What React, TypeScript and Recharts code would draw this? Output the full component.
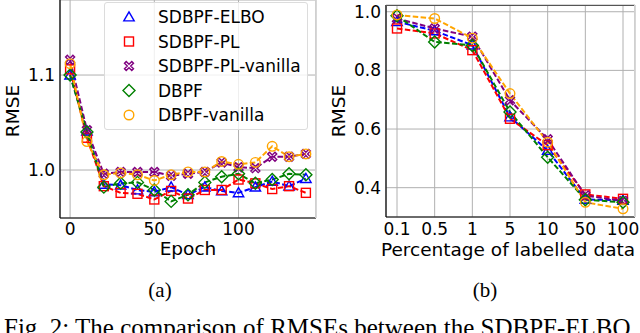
import React from "react";
import { LineChart, Line, XAxis, YAxis, CartesianGrid } from "recharts";

// plot (a): RMSE per epoch
const epochs = [0, 10, 20, 30, 40, 50, 60, 70, 80, 90, 100, 110, 120, 130, 140];
const elboByEpoch = [1.1, 1.041, 0.985, 0.984, 0.979, 0.977, 0.982, 0.974, 0.982, 0.978, 0.976, 0.982, 0.988, 0.983, 0.991];
const plByEpoch = [1.106, 1.034, 0.983, 0.976, 0.975, 0.969, 0.978, 0.970, 0.979, 0.979, 0.990, 0.986, 0.980, 0.983, 0.976];
const plVanillaByEpoch = [1.116, 1.042, 0.996, 0.998, 0.998, 0.998, 0.994, 0.996, 0.998, 1.008, 1.003, 1.002, 1.014, 1.014, 1.017];
const dbpfByEpoch = [1.1, 1.04, 0.982, 0.986, 0.987, 0.979, 0.967, 0.974, 0.987, 0.993, 0.996, 0.986, 0.99, 0.996, 0.995];
const dbpfVanillaByEpoch = [1.112, 1.03, 0.995, 0.997, 0.995, 0.989, 0.995, 0.998, 0.998, 1.009, 1.006, 1.008, 1.025, 1.014, 1.017];

// plot (b): RMSE per percentage of labelled data
const percentages = ["0.1", "0.5", "1", "5", "10", "50", "100"];
const elboByPct = [0.966, 0.935, 0.886, 0.641, 0.527, 0.36, 0.357];
const plByPct = [0.943, 0.926, 0.869, 0.635, 0.545, 0.377, 0.362];
const plVanillaByPct = [0.977, 0.943, 0.915, 0.698, 0.565, 0.373, 0.355];
const dbpfByPct = [0.986, 0.897, 0.885, 0.658, 0.504, 0.359, 0.35];
const dbpfVanillaByPct = [0.989, 0.977, 0.91, 0.721, 0.555, 0.35, 0.328];

const SERIES = [
  { key: "elbo", name: "SDBPF-ELBO", color: "#0000ff", shape: "triangle" },
  { key: "pl", name: "SDBPF-PL", color: "#ff0000", shape: "square" },
  { key: "plv", name: "SDBPF-PL-vanilla", color: "#800080", shape: "x" },
  { key: "dbpf", name: "DBPF", color: "#008000", shape: "diamond" },
  { key: "dbpfv", name: "DBPF-vanilla", color: "#ffa500", shape: "circle" },
];

const epochData = epochs.map((e, i) => ({
  epoch: e,
  elbo: elboByEpoch[i],
  pl: plByEpoch[i],
  plv: plVanillaByEpoch[i],
  dbpf: dbpfByEpoch[i],
  dbpfv: dbpfVanillaByEpoch[i],
}));

const pctData = percentages.map((p, i) => ({
  pct: p,
  elbo: elboByPct[i],
  pl: plByPct[i],
  plv: plVanillaByPct[i],
  dbpf: dbpfByPct[i],
  dbpfv: dbpfVanillaByPct[i],
}));

const FONT = "'DejaVu Sans', sans-serif";
const SERIF = "'Liberation Serif', 'DejaVu Serif', serif";

const Marker = ({ cx, cy, shape, color }) => {
  if (cx == null || cy == null) return null;
  const common = { fill: "none", stroke: color, strokeWidth: 1.4 };
  if (shape === "triangle") {
    const s = 5.2;
    return <polygon points={`${cx},${cy - s} ${cx - s},${cy + s * 0.75} ${cx + s},${cy + s * 0.75}`} {...common} />;
  }
  if (shape === "square") {
    return <rect x={cx - 4.5} y={cy - 4.5} width={9} height={9} {...common} />;
  }
  if (shape === "diamond") {
    const s = 6;
    return <polygon points={`${cx},${cy - s} ${cx + s},${cy} ${cx},${cy + s} ${cx - s},${cy}`} {...common} />;
  }
  if (shape === "x") {
    const a = 1.7;
    const b = 4.5;
    const pts = [
      [0, -a], [b - a, -b], [b, -(b - a)], [a, 0], [b, b - a], [b - a, b],
      [0, a], [-(b - a), b], [-b, b - a], [-a, 0], [-b, -(b - a)], [-(b - a), -b],
    ];
    return <polygon points={pts.map(([x, y]) => `${cx + x},${cy + y}`).join(" ")} {...common} />;
  }
  return <circle cx={cx} cy={cy} r={4.8} {...common} />;
};

const renderLines = () =>
  SERIES.map((s) => (
    <Line
      key={s.key}
      dataKey={s.key}
      stroke={s.color}
      strokeWidth={2}
      strokeDasharray="5.5 2.4"
      isAnimationActive={false}
      dot={(p) => <Marker key={`${s.key}-${p.index}`} cx={p.cx} cy={p.cy} shape={s.shape} color={s.color} />}
      activeDot={false}
    />
  ));

const tickStyle = { fontFamily: FONT, fontSize: 17, fill: "#000" };

const Label = ({ x, y, text, rotate = false, font = FONT, size = 18.5 }) => (
  <div
    style={{
      position: "absolute",
      left: x,
      top: y,
      transform: `translate(-50%, -50%)${rotate ? " rotate(-90deg)" : ""}`,
      fontFamily: font,
      fontSize: size,
      whiteSpace: "nowrap",
      lineHeight: 1,
    }}
  >
    {text}
  </div>
);

const App = () => {
  return (
    <div
      style={{
        position: "fixed",
        left: 0,
        top: 0,
        width: 640,
        height: 333,
        overflow: "hidden",
        background: "#fff",
      }}
    >
      {/* (a) */}
      <div style={{ position: "absolute", left: 0, top: 0 }}>
        <LineChart width={320} height={260} data={epochData} margin={{ top: 0, right: 4, left: 0, bottom: 0 }}>
          <CartesianGrid stroke="#b0b0b0" strokeWidth={1} />
          <XAxis
            dataKey="epoch"
            type="number"
            domain={[-6, 146]}
            ticks={[0, 50, 100]}
            height={42}
            tickLine={false}
            tickSize={3}
            tickMargin={2}
            axisLine={{ stroke: "#000", strokeWidth: 1.2 }}
            tick={tickStyle}
          />
          <YAxis
            type="number"
            domain={[0.9495, 1.179]}
            ticks={[1.0, 1.1]}
            tickFormatter={(v) => v.toFixed(1)}
            width={60}
            tickLine={false}
            tickSize={3}
            tickMargin={2}
            allowDataOverflow
            axisLine={{ stroke: "#000", strokeWidth: 1.2 }}
            tick={tickStyle}
          />
          {renderLines()}
        </LineChart>
      </div>
      <div style={{ position: "absolute", left: 315, top: 0, width: 1, height: 218, background: "#d0d0d0" }} />

      {/* legend (a) */}
      <div
        style={{
          position: "absolute",
          left: 104,
          top: 2,
          width: 204,
          height: 128,
          background: "rgba(255,255,255,0.8)",
          border: "1px solid #dcdcdc",
          borderRadius: 3,
          boxSizing: "border-box",
        }}
      >
        <svg width={40} height={127} style={{ position: "absolute", left: 0, top: 0 }}>
          {SERIES.map((s, i) => (
            <Marker key={s.key} cx={24} cy={14 + i * 24.5} shape={s.shape} color={s.color} />
          ))}
        </svg>
        {SERIES.map((s, i) => (
          <div
            key={s.key}
            style={{
              position: "absolute",
              left: 53,
              top: 14 + i * 24.5,
              transform: "translateY(-50%)",
              fontFamily: FONT,
              fontSize: 17,
              lineHeight: 1,
              whiteSpace: "nowrap",
            }}
          >
            {s.name}
          </div>
        ))}
      </div>

      <Label x={13} y={111} text="RMSE" rotate />
      <Label x={188} y={249} text="Epoch" />
      <Label x={160} y={290} text="(a)" font={SERIF} size={21} />

      {/* (b) */}
      <div style={{ position: "absolute", left: 320, top: 0 }}>
        <LineChart width={320} height={260} data={pctData} margin={{ top: 5, right: 5, left: 0, bottom: 0 }}>
          <CartesianGrid stroke="#b0b0b0" strokeWidth={1} />
          <XAxis
            dataKey="pct"
            padding={{ left: 11, right: 12 }}
            height={43}
            tickLine={false}
            tickSize={3}
            tickMargin={3}
            interval={0}
            axisLine={{ stroke: "#000", strokeWidth: 1.2 }}
            tick={tickStyle}
          />
          <YAxis
            type="number"
            domain={[0.3, 1.023]}
            ticks={[0.4, 0.6, 0.8, 1.0]}
            tickFormatter={(v) => v.toFixed(1)}
            width={66}
            tickLine={false}
            tickSize={3}
            tickMargin={2}
            allowDataOverflow
            axisLine={{ stroke: "#000", strokeWidth: 1.2 }}
            tick={tickStyle}
          />
          {renderLines()}
        </LineChart>
      </div>
      <div style={{ position: "absolute", left: 386, top: 5, width: 249, height: 1, background: "#555" }} />
      <div style={{ position: "absolute", left: 634, top: 5, width: 1, height: 212, background: "#d0d0d0" }} />

      <Label x={339} y={111} text="RMSE" rotate />
      <Label x={508} y={250} text="Percentage of labelled data" />
      <Label x={485} y={290} text="(b)" font={SERIF} size={21} />

      <div
        style={{
          position: "absolute",
          left: 4,
          top: 315,
          fontFamily: SERIF,
          fontSize: 25,
          lineHeight: 1,
          whiteSpace: "nowrap",
        }}
      >
        Fig. 2: The comparison of RMSEs between the SDBPF-ELBO
      </div>
    </div>
  );
};

export default App;
